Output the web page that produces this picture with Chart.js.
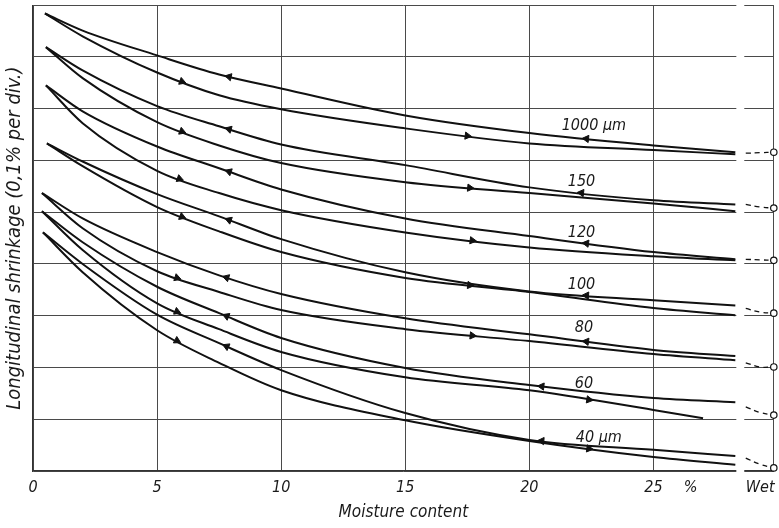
<!DOCTYPE html>
<html lang="en">
<head>
    <meta charset="UTF-8">
    <title>Longitudinal shrinkage vs moisture content</title>
    <style>
        html, body { margin: 0; padding: 0; background: #fff; }
        .chart-box { width: 779px; height: 528px; }
    </style>
</head>
<body>
    <div class="chart-box"><canvas id="shrinkChart"></canvas></div>

    <script src="https://cdn.jsdelivr.net/npm/chart.js"></script>
    <script>
        const moistureSteps = [2, 5, 7.5, 10, 15, 20, 25, 28.3];

        // particle sizes, top loop first
        const sizes = ['1000 µm', '150', '120', '100', '80', '60', '40 µm'];

        // common dry-end point of each loop
        const startMoisture = [0.48, 0.52, 0.52, 0.56, 0.36, 0.36, 0.40];
        const startShrinkage = [8.84, 8.19, 7.45, 6.33, 5.37, 5.02, 4.61];

        // upper branch of each loop (shrinkage, divisions)
        const upper1000 = [8.51, 8.03, 7.66, 7.39, 6.87, 6.53, 6.29, 6.16];
        const upper150 = [7.74, 7.05, 6.66, 6.31, 5.91, 5.48, 5.23, 5.15];
        const upper120 = [6.95, 6.27, 5.85, 5.44, 4.88, 4.54, 4.23, 4.09];
        const upper100 = [5.98, 5.35, 4.92, 4.48, 3.84, 3.47, 3.30, 3.20];
        const upper80 = [4.88, 4.23, 3.78, 3.42, 2.95, 2.64, 2.34, 2.22];
        const upper60 = [4.42, 3.56, 3.05, 2.57, 1.99, 1.66, 1.41, 1.33];
        const upper40 = [4.00, 3.02, 2.47, 1.95, 1.12, 0.60, 0.41, 0.29];

        // lower branch of each loop
        const lower1000 = [8.40, 7.70, 7.26, 6.99, 6.62, 6.33, 6.20, 6.12];
        const lower150 = [7.59, 6.74, 6.29, 5.95, 5.58, 5.37, 5.17, 5.02];
        const lower120 = [6.72, 5.80, 5.37, 5.04, 4.61, 4.32, 4.15, 4.07];
        const lower100 = [5.89, 5.10, 4.63, 4.23, 3.73, 3.46, 3.15, 3.01];
        const lower80 = [4.69, 3.86, 3.46, 3.11, 2.74, 2.51, 2.26, 2.14];
        const lower60 = [4.27, 3.24, 2.74, 2.30, 1.81, 1.56, 1.18, 1.02];
        const lower40 = [3.84, 2.72, 2.09, 1.56, 0.98, 0.58, 0.27, 0.12];

        // last moisture reading of the lower branch (60 µm stops early)
        const lowerEnd = [28.3, 28.3, 28.3, 28.3, 28.3, 27.0, 28.3];

        // dashed run-out to the wet value
        const wetMoisture = [28.72, 29.3, 29.85];
        const wet1000 = [6.14, 6.15, 6.16];
        const wet150 = [5.15, 5.10, 5.08];
        const wet120 = [4.09, 4.08, 4.07];
        const wet100 = [3.14, 3.07, 3.05];
        const wet80 = [2.09, 2.01, 2.01];
        const wet60 = [1.24, 1.13, 1.08];
        const wet40 = [0.25, 0.13, 0.06];

        // arrows: moisture where they sit and which branch carries them
        const arrowMoisture = [
            [6.0, 7.9, 17.5, 22.3],
            [6.0, 7.9, 17.6, 22.1],
            [5.9, 7.9, 17.7, 22.3],
            [6.0, 7.9, 17.6, 22.3],
            [5.8, 7.8, 17.7, 22.3],
            [5.8, 7.8, 20.5, 22.4],
            [5.8, 7.8, 20.5, 22.4]
        ];
        const arrowBranch = [
            ['lower', 'upper', 'lower', 'upper'],
            ['lower', 'upper', 'lower', 'upper'],
            ['lower', 'upper', 'lower', 'upper'],
            ['lower', 'upper', 'lower', 'upper'],
            ['lower', 'upper', 'lower', 'upper'],
            ['lower', 'upper', 'upper', 'lower'],
            ['lower', 'upper', 'upper', 'lower']
        ];

        const xTickValues = [0, 5, 10, 15, 20, 25, 26.5, 29.3, 29.85];
        const xTickLabels = ['0', '5', '10', '15', '20', '25', '%', 'Wet', ''];

        const upperBranch = [upper1000, upper150, upper120, upper100, upper80, upper60, upper40];
        const lowerBranch = [lower1000, lower150, lower120, lower100, lower80, lower60, lower40];
        const wetBranch = [wet1000, wet150, wet120, wet100, wet80, wet60, wet40];

        const FONT = '"DejaVu Sans Condensed", "Liberation Sans Narrow", "DejaVu Sans", sans-serif';
        const INK = '#111';

        function branchPoints(i, branch) {
            const ys = branch === 'upper' ? upperBranch[i] : lowerBranch[i];
            const xs = moistureSteps.slice();
            if (branch === 'lower') xs[xs.length - 1] = lowerEnd[i];
            return [{ x: startMoisture[i], y: startShrinkage[i] }]
                .concat(xs.map((x, k) => ({ x: x, y: ys[k] })));
        }

        function valueAt(pts, x) {
            for (let k = 1; k < pts.length; k++) {
                if (x <= pts[k].x) {
                    const a = pts[k - 1], b = pts[k];
                    return a.y + (b.y - a.y) * (x - a.x) / (b.x - a.x);
                }
            }
            return pts[pts.length - 1].y;
        }

        const datasets = [];
        const arrows = [];

        sizes.forEach((size, i) => {
            ['upper', 'lower'].forEach(branch => {
                datasets.push({
                    label: size + ' ' + branch,
                    data: branchPoints(i, branch),
                    borderColor: INK,
                    borderWidth: 2,
                    pointRadius: 0,
                    cubicInterpolationMode: 'monotone',
                    fill: false
                });
            });

            datasets.push({
                label: size + ' wet',
                data: wetMoisture.map((x, k) => ({ x: x, y: wetBranch[i][k] })),
                borderColor: INK,
                borderWidth: 1.3,
                borderDash: [5, 4],
                tension: 0.4,
                pointRadius: ctx => ctx.dataIndex === wetMoisture.length - 1 ? 3.2 : 0,
                pointBackgroundColor: '#fff',
                pointBorderColor: INK,
                pointBorderWidth: 1.2,
                clip: false
            });

            arrowMoisture[i].forEach((x, k) => {
                const pts = branchPoints(i, arrowBranch[i][k]);
                arrows.push({ x: x, y: valueAt(pts, x), pts: pts, right: arrowBranch[i][k] === 'lower' });
            });
        });

        datasets.push({
            label: 'arrows',
            data: arrows,
            showLine: false,
            pointStyle: 'triangle',
            pointRadius: 4.2,
            pointBackgroundColor: INK,
            pointBorderColor: INK,
            pointBorderWidth: 1,
            pointRotation: ctx => {
                const p = ctx.raw;
                if (!p) return 0;
                const sx = ctx.chart.scales.x, sy = ctx.chart.scales.y;
                const dx = sx.getPixelForValue(p.x + 0.3) - sx.getPixelForValue(p.x - 0.3);
                const dy = sy.getPixelForValue(valueAt(p.pts, p.x + 0.3)) - sy.getPixelForValue(valueAt(p.pts, p.x - 0.3));
                const ang = Math.atan2(dy, dx) * 180 / Math.PI;
                return p.right ? 90 + ang : ang - 90;
            }
        });

        // size labels placed next to each loop (moisture, shrinkage)
        const sizeLabelSpots = [
            [22.6, 6.66], [22.1, 5.58], [22.1, 4.61], [22.1, 3.59],
            [22.2, 2.76], [22.2, 1.68], [22.8, 0.64]
        ];

        const paperPlugin = {
            id: 'paper',
            beforeDatasetsDraw(chart) {
                // break in the grid between the plot and the "wet" column
                const { ctx, chartArea, scales: { x } } = chart;
                const x0 = x.getPixelForValue(28.34), x1 = x.getPixelForValue(28.66);
                ctx.save();
                ctx.fillStyle = '#fff';
                ctx.fillRect(x0, chartArea.top - 3, x1 - x0, chartArea.bottom - chartArea.top + 6);
                ctx.restore();
            },
            afterDatasetsDraw(chart) {
                const { ctx, scales: { x, y } } = chart;
                ctx.save();
                ctx.fillStyle = '#1a1a1a';
                ctx.font = 'italic 16px ' + FONT;
                ctx.textAlign = 'center';
                ctx.textBaseline = 'middle';
                sizes.forEach((s, i) => {
                    const [mx, sy] = sizeLabelSpots[i];
                    ctx.fillText(s, x.getPixelForValue(mx), y.getPixelForValue(sy));
                });
                ctx.restore();
            }
        };

        const hidden = ['%', 'Wet'];

        new Chart(document.getElementById('shrinkChart'), {
            type: 'line',
            data: { datasets: datasets },
            options: {
                responsive: true,
                maintainAspectRatio: false,
                animation: false,
                layout: { padding: { top: 5, right: 4, left: 0, bottom: 0 } },
                plugins: {
                    legend: { display: false },
                    tooltip: { enabled: false }
                },
                scales: {
                    x: {
                        type: 'linear',
                        min: 0,
                        max: 29.85,
                        afterBuildTicks: axis => {
                            axis.ticks = xTickValues.map(v => ({ value: v }));
                        },
                        afterFit: scale => {
                            scale.height = 57;
                            scale.paddingLeft = 0;
                            scale.paddingRight = 0;
                        },
                        ticks: {
                            autoSkip: false,
                            maxRotation: 0,
                            padding: 7,
                            color: '#1a1a1a',
                            font: { family: FONT, size: 16, style: 'italic' },
                            callback: (value, index) => xTickLabels[index]
                        },
                        grid: {
                            drawTicks: false,
                            lineWidth: 1,
                            color: ctx => (ctx.tick && hidden.includes(xTickLabels[ctx.index])) ? 'rgba(0,0,0,0)' : '#4a4a4a'
                        },
                        border: { color: '#333', width: 1.3 },
                        title: {
                            display: true,
                            text: 'Moisture content',
                            color: '#1a1a1a',
                            font: { family: FONT, size: 17, style: 'italic' },
                            padding: { top: 0, bottom: 5 }
                        }
                    },
                    y: {
                        type: 'linear',
                        min: 0,
                        max: 9,
                        afterFit: scale => { scale.width = 33; },
                        ticks: { display: false, stepSize: 1 },
                        grid: { drawTicks: false, lineWidth: 1, color: '#4a4a4a' },
                        border: { color: '#333', width: 1.3 },
                        title: {
                            display: true,
                            text: 'Longitudinal shrinkage (0,1% per div.)',
                            color: '#1a1a1a',
                            font: { family: FONT, size: 20, style: 'italic' },
                            padding: { top: 3, bottom: 0 }
                        }
                    }
                }
            },
            plugins: [paperPlugin]
        });
    </script>
</body>
</html>
